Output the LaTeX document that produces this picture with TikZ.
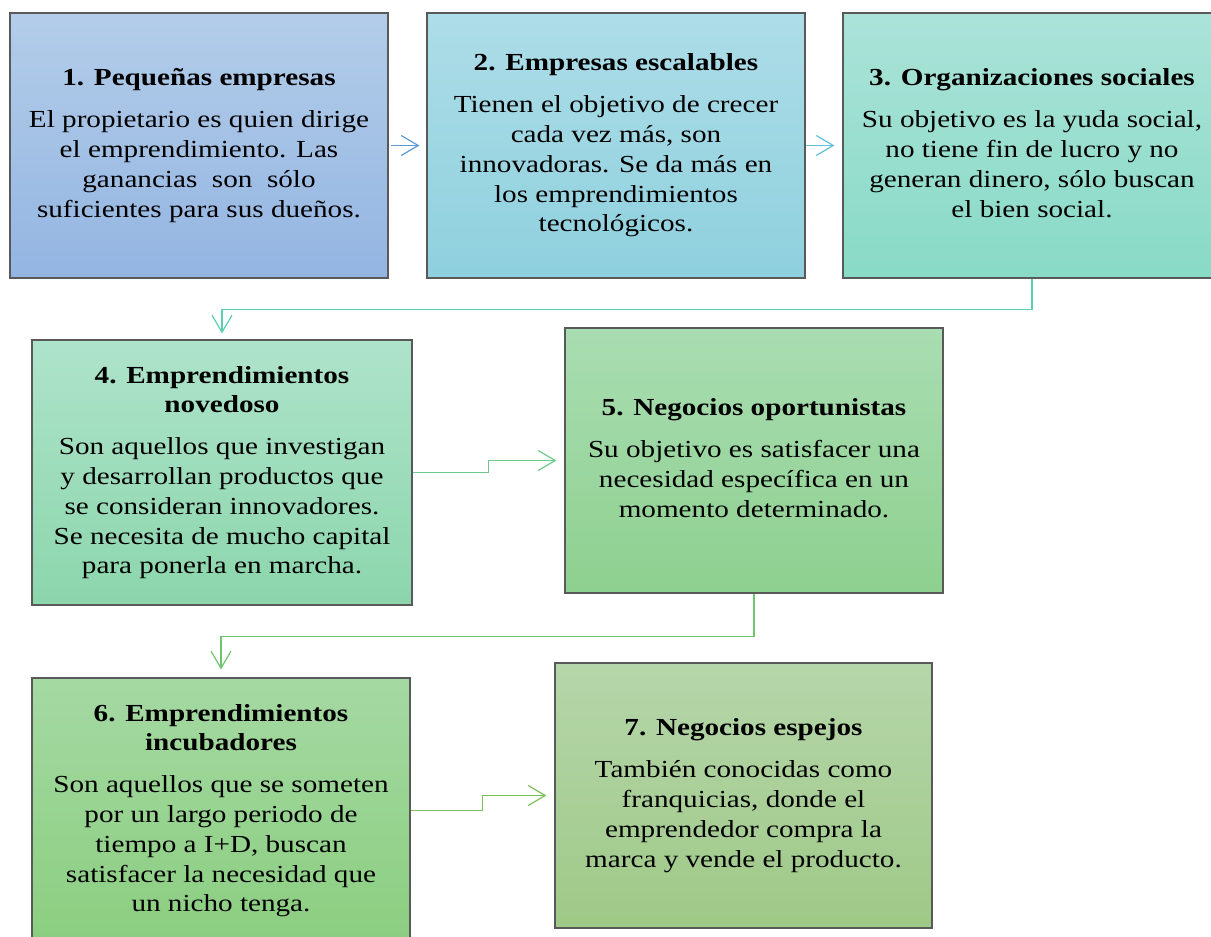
\documentclass[tikz,border=0pt]{standalone}
\usepackage{fontspec}
\usepackage{graphicx}
\setmainfont{Liberation Serif}
\usetikzlibrary{arrows.meta}
\definecolor{c1t}{HTML}{B3CDE9}\definecolor{c1b}{HTML}{94B5E2}
\definecolor{c2t}{HTML}{ADDDE8}\definecolor{c2b}{HTML}{8FD0DE}
\definecolor{c3t}{HTML}{ABE3D9}\definecolor{c3b}{HTML}{88DAC6}
\definecolor{c4t}{HTML}{AEE3CB}\definecolor{c4b}{HTML}{8CD6AC}
\definecolor{c5t}{HTML}{A9DDB2}\definecolor{c5b}{HTML}{8ED08F}
\definecolor{c6t}{HTML}{A5D9A3}\definecolor{c6b}{HTML}{8BCE80}
\definecolor{c7t}{HTML}{B5D6AA}\definecolor{c7b}{HTML}{9FC987}
\definecolor{a1}{HTML}{5B9BD5}\definecolor{a2}{HTML}{62BEDC}
\definecolor{a3}{HTML}{5CCFB0}\definecolor{a4}{HTML}{6ACC8C}
\definecolor{a5}{HTML}{6FC56D}\definecolor{a6}{HTML}{7BBE5A}
\tikzset{
  card/.style={draw=black!65, line width=1.2pt, inner sep=0pt,
    minimum width=378pt, minimum height=265pt, align=center,
    font=\fontsize{24.5}{29.8}\selectfont, text=black},
  link/.style={line width=1.2pt, -{Straight Barb[length=17pt,width=20pt,line width=1.2pt]}},
}
\newcommand{\cardtext}[1]{\raisebox{-3pt}{\scalebox{1.19}[1]{\begin{tabular}{@{}c@{}}#1\end{tabular}}}}
\newcommand{\ttl}[1]{\textbf{#1}\\[12pt]}
\begin{document}
\begin{tikzpicture}[x=1pt,y=-1pt]
\useasboundingbox (0,0) rectangle (1211,937);
\clip (0,0) rectangle (1211,937);
\node[card, top color=c1t, bottom color=c1b] (b1) at (199,145.5)
  {\cardtext{\ttl{1. Pequeñas empresas}El propietario es quien dirige\\el emprendimiento. Las\\ganancias\ \ son\ \ sólo\\suficientes para sus dueños.}};
\node[card, top color=c2t, bottom color=c2b] (b2) at (616,145.5)
  {\cardtext{\ttl{2. Empresas escalables}Tienen el objetivo de crecer\\cada vez más, son\\innovadoras. Se da más en\\los emprendimientos\\tecnológicos.}};
\node[card, top color=c3t, bottom color=c3b] (b3) at (1032,145.5)
  {\cardtext{\ttl{3. Organizaciones sociales}Su objetivo es la yuda social,\\no tiene fin de lucro y no\\generan dinero, sólo buscan\\el bien social.}};
\node[card, minimum width=380pt, top color=c4t, bottom color=c4b] (b4) at (222,472.5)
  {\cardtext{\textbf{4. Emprendimientos}\\\ttl{novedoso}Son aquellos que investigan\\y desarrollan productos que\\se consideran innovadores.\\Se necesita de mucho capital\\para ponerla en marcha.}};
\node[card, top color=c5t, bottom color=c5b] (b5) at (754,460.5)
  {\cardtext{\ttl{5. Negocios oportunistas}Su objetivo es satisfacer una\\necesidad específica en un\\momento determinado.}};
\node[card, top color=c6t, bottom color=c6b] (b6) at (221,810.5)
  {\cardtext{\textbf{6. Emprendimientos}\\\ttl{incubadores}Son aquellos que se someten\\por un largo periodo de\\tiempo a I+D, buscan\\satisfacer la necesidad que\\un nicho tenga.}};
\node[card, minimum width=377pt, top color=c7t, bottom color=c7b] (b7) at (743.5,795.5)
  {\cardtext{\ttl{7. Negocios espejos}También conocidas como\\franquicias, donde el\\emprendedor compra la\\marca y vende el producto.}};
\draw[link, a1, shorten <=2pt, shorten >=7pt] (b1.east) -- (b2.west);
\draw[link, a2, shorten <=0pt, shorten >=8pt] (b2.east) -- (b3.west);
\draw[link, a3, shorten >=6pt] (b3.south) -- ++(0,31) -| (b4.north);
\draw[link, a4, shorten >=8pt] (b4.east) -- ++(76,0) |- (b5.west);
\draw[link, a5, shorten >=8pt] (b5.south) -- ++(0,43) -| (b6.north);
\draw[link, a6, shorten >=8pt] (b6.east) -- ++(72,0) |- (b7.west);
\end{tikzpicture}
\end{document}
